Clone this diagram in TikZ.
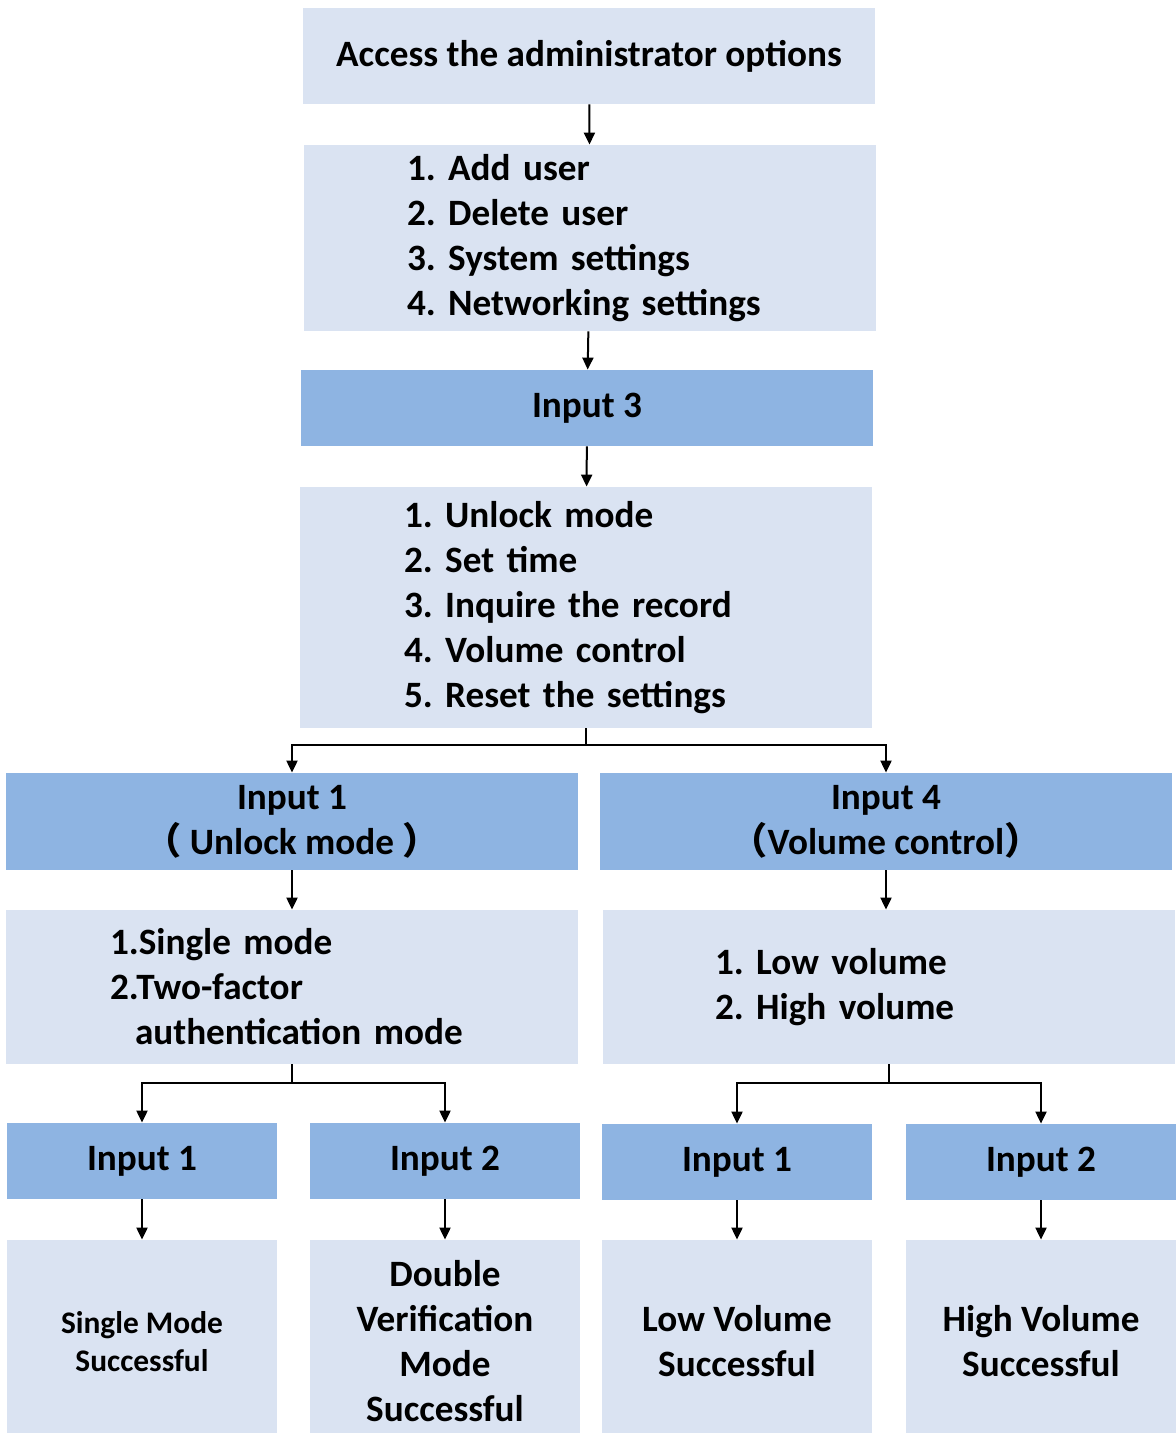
\documentclass[tikz,border=0pt]{standalone}
\usepackage{xcolor}
\usepackage{fontspec}
\setmainfont{Carlito}
\newfontfamily\cjk{Noto Sans CJK SC}
\usepackage{tikz}
\usetikzlibrary{arrows.meta, positioning}
\definecolor{paleblue}{RGB}{218,227,242}
\definecolor{inputblue}{RGB}{142,180,226}
\frenchspacing

\begin{document}
\begin{tikzpicture}[
    x=0.5pt, y=-0.5pt,
    box/.style={fill=paleblue, inner sep=0pt, align=center, font=\fontsize{18.6}{22.5}\selectfont\bfseries},
    wide/.style={box, minimum width=286pt},
    narrow/.style={box, minimum width=135pt},
    inputbox/.style={fill=inputblue},
    listbox/.style={align=left, inner xsep=#1, text width=286pt-2*#1},
    smalltext/.style={font=\fontsize{15.7}{19}\selectfont\bfseries},
    arrow/.style={-{Triangle[length=6pt, width=5.5pt]}, line width=1pt}
]
    \path[use as bounding box, fill=white] (0,0) rectangle (1175,1433);

    \node[wide, minimum height=48pt] (access) at (589,56) {Access the administrator options};
    \node[wide, minimum height=93pt, listbox=51.5pt] (adminmenu) at (590,238) {1. Add user\\2. Delete user\\3. System settings\\4. Networking settings};
    \node[wide, inputbox, minimum height=38pt] (input3) at (587,408) {Input 3};
    \node[wide, minimum height=120.5pt, listbox=52pt] (sysmenu) at (586,607.5) {1. Unlock mode\\2. Set time\\3. Inquire the record\\4. Volume control\\5. Reset the settings};

    \node[wide, inputbox, minimum height=48.5pt] (unlock) at (292,821.5) {Input 1\\{\cjk （} Unlock mode {\cjk ）}};
    \node[wide, inputbox, minimum height=48.5pt] (volume) at (886,821.5) {Input 4\\{\cjk （}Volume control{\cjk ）}};
    \node[wide, minimum height=77pt, listbox=52pt] (modemenu) at (292,987) {1.Single mode\\2.Two-factor\\\hspace*{12.5pt}authentication mode};
    \node[wide, minimum height=77pt, listbox=56pt] (volmenu) at (889,987) {1. Low volume\\2. High volume};

    \node[narrow, inputbox, minimum height=38pt] (single) at (142,1161) {Input 1};
    \node[narrow, inputbox, minimum height=38pt] (double) at (445,1161) {Input 2};
    \node[narrow, inputbox, minimum height=38pt] (low) at (737,1162) {Input 1};
    \node[narrow, inputbox, minimum height=38pt] (high) at (1041,1162) {Input 2};

    \node[narrow, smalltext, minimum height=101.5pt] (singleok) at (142,1341.5) {Single Mode\\Successful};
    \node[narrow, minimum height=101.5pt] (doubleok) at (445,1341.5) {Double\\Verification\\Mode\\Successful};
    \node[narrow, minimum height=101.5pt] (lowok) at (737,1341.5) {Low Volume\\Successful};
    \node[narrow, minimum height=101.5pt] (highok) at (1041,1341.5) {High Volume\\Successful};

    \draw[arrow] (access) -- (adminmenu);
    \draw[arrow] (adminmenu) -- (input3);
    \draw[arrow] (input3) -- (sysmenu);
    \draw[arrow] (sysmenu.south) -- ++(0,17) -| (unlock.north);
    \draw[arrow] (sysmenu.south) -- ++(0,17) -| (volume.north);
    \draw[arrow] (unlock) -- (modemenu);
    \draw[arrow] (volume.south) -- (volume.south |- volmenu.north);
    \draw[arrow] (modemenu.south) -- ++(0,19) -| (single.north);
    \draw[arrow] (modemenu.south) -- ++(0,19) -| (double.north);
    \draw[arrow] (volmenu.south) -- ++(0,19) -| (low.north);
    \draw[arrow] (volmenu.south) -- ++(0,19) -| (high.north);
    \draw[arrow] (single) -- (singleok);
    \draw[arrow] (double) -- (doubleok);
    \draw[arrow] (low) -- (lowok);
    \draw[arrow] (high) -- (highok);
\end{tikzpicture}
\end{document}
